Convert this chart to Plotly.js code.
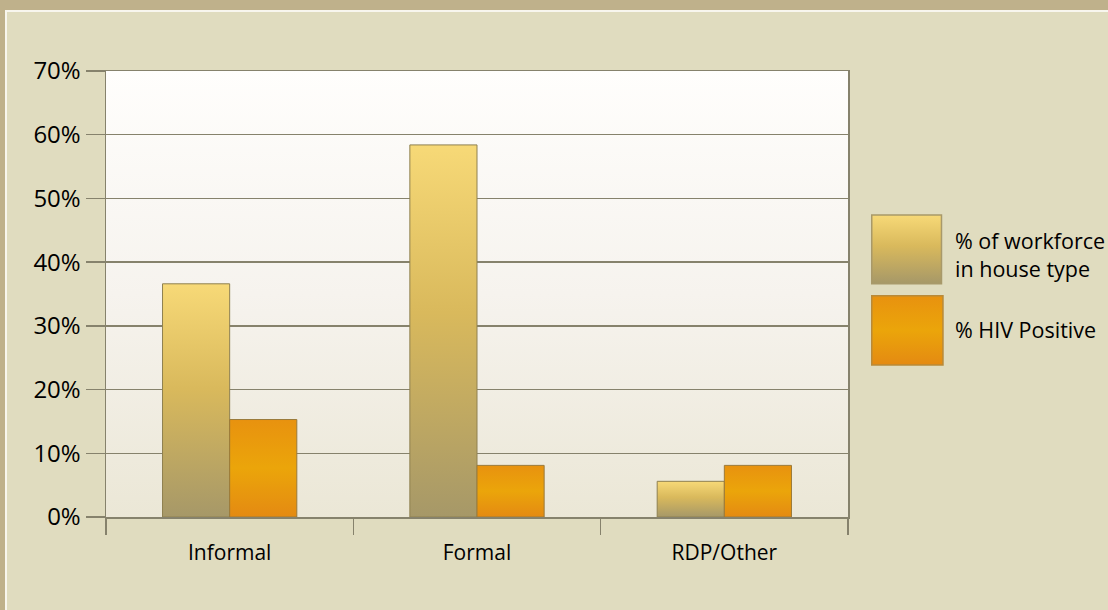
<!DOCTYPE html>
<html>
<head>
<meta charset="utf-8">
<script src="https://cdn.plot.ly/plotly-3.0.1.min.js"></script>
<style>
  html, body { margin: 0; padding: 0; background: #bfb18b; }
  #frame { position: absolute; left: 5px; top: 10px; width: 1103px; height: 600px;
           background: #e0dcbf; border-left: 2px solid #f8f6ee; border-top: 2px solid #f8f6ee; box-sizing: border-box; }
  #chart { position: absolute; left: 0; top: 0; width: 1108px; height: 610px; }
</style>
</head>
<body>
<div id="frame"></div>
<div id="chart"></div>
<script>
// ---- data ----
const categories = ["Informal", "Formal", "RDP/Other"];
const workforceName = "% of workforce<br>in house type";
const workforceValues = [36.6, 58.4, 5.6];
const hivName = "% HIV Positive";
const hivValues = [15.3, 8.1, 8.1];
const yTickValues = [0, 10, 20, 30, 40, 50, 60, 70];
const yTickLabels = ["0%", "10%", "20%", "30%", "40%", "50%", "60%", "70%"];

const font = "'Open Sans', 'DejaVu Sans', sans-serif";
const lineCol = "#86826c";

const traces = [
  { type: "bar", name: workforceName, x: categories, y: workforceValues,
    marker: { color: "#d4b865", line: { color: "#8f8050", width: 1 } }, hoverinfo: "y" },
  { type: "bar", name: hivName, x: categories, y: hivValues,
    marker: { color: "#e9990d", line: { color: "#9a7a3a", width: 1 } }, hoverinfo: "y" }
];

const layout = {
  width: 1108, height: 610,
  margin: { l: 106, r: 260, t: 71, b: 93 },
  paper_bgcolor: "rgba(0,0,0,0)",
  plot_bgcolor: "#f6f3ec",
  showlegend: false,
  barmode: "group",
  bargap: 0.457,
  bargroupgap: 0,
  font: { family: font, color: "#000" },
  xaxis: {
    type: "category", tickson: "boundaries", ticks: "outside", ticklen: 16,
    tickcolor: lineCol, tickwidth: 1.5, showline: true, mirror: true,
    linecolor: lineCol, linewidth: 1.5, showgrid: false,
    ticklabelstandoff: 16,
    tickfont: { family: font, size: 21, color: "#000" }
  },
  yaxis: {
    range: [0, 70], tickvals: yTickValues, ticktext: yTickLabels,
    ticks: "outside", ticklen: 19, tickcolor: lineCol, tickwidth: 1.5,
    showline: true, mirror: true, linecolor: lineCol, linewidth: 1.5,
    showgrid: true, gridcolor: lineCol, gridwidth: 1.5, zeroline: false,
    tickfont: { family: font, size: 24, color: "#000" }
  },
  shapes: [
    { type: "rect", xref: "paper", yref: "paper", x0: 1.032, x1: 1.126, y0: 0.523, y1: 0.677,
      fillcolor: "#d4b865", line: { color: "#a8996a", width: 1.5 } },
    { type: "rect", xref: "paper", yref: "paper", x0: 1.032, x1: 1.128, y0: 0.341, y1: 0.496,
      fillcolor: "#e9990d", line: { color: "#b88a3a", width: 1.5 } }
  ],
  annotations: [
    { xref: "paper", yref: "paper", x: 1.142, y: 0.588, xanchor: "left", yanchor: "middle",
      text: workforceName, showarrow: false, align: "left",
      font: { family: font, size: 21.5, color: "#000" } },
    { xref: "paper", yref: "paper", x: 1.142, y: 0.42, xanchor: "left", yanchor: "middle",
      text: hivName, showarrow: false, align: "left",
      font: { family: font, size: 21.5, color: "#000" } }
  ]
};

function addGrad(defs, id, stops) {
  const ns = "http://www.w3.org/2000/svg";
  const g = document.createElementNS(ns, "linearGradient");
  g.setAttribute("id", id);
  g.setAttribute("x1", "0"); g.setAttribute("y1", "0");
  g.setAttribute("x2", "0"); g.setAttribute("y2", "1");
  stops.forEach(([off, col]) => {
    const s = document.createElementNS(ns, "stop");
    s.setAttribute("offset", off); s.setAttribute("stop-color", col);
    g.appendChild(s);
  });
  defs.appendChild(g);
}

Plotly.newPlot("chart", traces, layout, { displayModeBar: false, staticPlot: true }).then(gd => {
  const svg = gd.querySelector("svg.main-svg");
  let defs = svg.querySelector("defs");
  if (!defs) { defs = document.createElementNS("http://www.w3.org/2000/svg", "defs"); svg.insertBefore(defs, svg.firstChild); }
  addGrad(defs, "gWork", [["0", "#f7d977"], ["0.45", "#d9b95c"], ["1", "#a69868"]]);
  addGrad(defs, "gHiv", [["0", "#e8920f"], ["0.5", "#eba50a"], ["1", "#e48a12"]]);
  addGrad(defs, "gBg", [["0", "#fffefc"], ["0.5", "#f6f3ee"], ["1", "#ebe7d6"]]);
  const bg = gd.querySelector(".bglayer .bg");
  if (bg) bg.style.fill = "url(#gBg)";
  const barTraces = gd.querySelectorAll(".barlayer .trace");
  const ids = ["gWork", "gHiv"];
  barTraces.forEach((t, i) => t.querySelectorAll("path").forEach(p => p.style.fill = "url(#" + ids[i] + ")"));
  const shp = gd.querySelectorAll(".shapelayer path");
  shp.forEach((p, i) => { if (ids[i]) p.style.fill = "url(#" + ids[i] + ")"; });
});
</script>
</body>
</html>
